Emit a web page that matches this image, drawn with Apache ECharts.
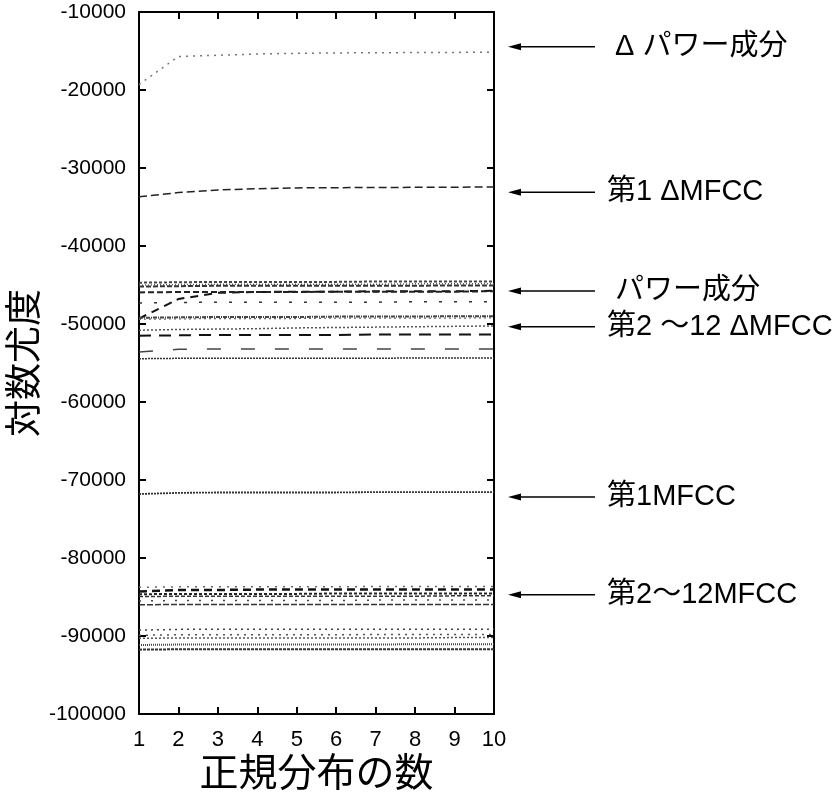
<!DOCTYPE html>
<html>
<head>
<meta charset="utf-8">
<script src="https://cdn.jsdelivr.net/npm/echarts@6/dist/echarts.min.js"></script>
<style>html,body{margin:0;padding:0;background:#fff}#chart{width:839px;height:800px}</style>
</head>
<body>
<div id="chart"></div>
<script>
// ---- data ----
const xValues = [1, 2, 3, 4, 5, 6, 7, 8, 9, 10];

const dPower  = [-19300, -15700, -15550, -15380, -15300, -15250, -15220, -15200, -15180, -15150];
const dMfcc1  = [-33700, -33150, -32820, -32650, -32550, -32520, -32500, -32480, -32460, -32440];
const power   = [-49300, -46800, -46000, -45900, -45850, -45850, -45800, -45800, -45800, -45750];

const dMfcc2  = [-44700, -44650, -44600, -44600, -44600, -44600, -44550, -44550, -44550, -44550];
const dMfcc3  = [-45000, -44950, -44900, -44900, -44900, -44900, -44900, -44850, -44850, -44850];
const dMfcc4  = [-45200, -45150, -45100, -45100, -45100, -45100, -45100, -45100, -45050, -45050];
const dMfcc5  = [-45950, -45900, -45900, -45900, -45900, -45850, -45850, -45850, -45850, -45800];
const dMfcc6  = [-47300, -47250, -47200, -47200, -47200, -47200, -47200, -47150, -47150, -47150];
const dMfcc7  = [-49200, -49150, -49100, -49100, -49100, -49050, -49050, -49050, -49000, -49000];
const dMfcc8  = [-49400, -49350, -49300, -49300, -49300, -49250, -49250, -49250, -49250, -49200];
const dMfcc9  = [-50800, -50700, -50650, -50600, -50500, -50450, -50400, -50350, -50300, -50250];
const dMfcc10 = [-51500, -51450, -51400, -51400, -51400, -51400, -51350, -51350, -51350, -51350];
const dMfcc11 = [-53600, -53250, -53200, -53200, -53200, -53200, -53200, -53200, -53200, -53200];
const dMfcc12 = [-54450, -54400, -54400, -54400, -54400, -54400, -54400, -54350, -54350, -54350];

const mfcc1   = [-71800, -71650, -71600, -71600, -71600, -71600, -71550, -71550, -71550, -71550];

const mfcc2   = [-83750, -83700, -83700, -83700, -83700, -83700, -83650, -83650, -83650, -83650];
const mfcc3   = [-84300, -84100, -84100, -84050, -84050, -84050, -84050, -84050, -84050, -84050];
const mfcc4   = [-84650, -84600, -84600, -84600, -84600, -84550, -84550, -84550, -84550, -84550];
const mfcc5   = [-84950, -84900, -84900, -84900, -84900, -84900, -84900, -84900, -84850, -84850];
const mfcc6   = [-85500, -85450, -85450, -85450, -85450, -85450, -85400, -85400, -85400, -85400];
const mfcc7   = [-86000, -85950, -85950, -85950, -85950, -85950, -85950, -85950, -85950, -85950];
const mfcc8   = [-89250, -89150, -89150, -89150, -89150, -89150, -89150, -89150, -89150, -89150];
const mfcc9   = [-89900, -89850, -89850, -89850, -89850, -89850, -89800, -89800, -89800, -89800];
const mfcc10  = [-90300, -90250, -90250, -90250, -90250, -90250, -90250, -90250, -90200, -90200];
const mfcc11  = [-91150, -91100, -91100, -91100, -91100, -91100, -91100, -91050, -91050, -91050];
const mfcc12  = [-91750, -91700, -91700, -91700, -91700, -91700, -91700, -91700, -91700, -91700];

const annotationLabels = ['Δ パワー成分', '第1 ΔMFCC', 'パワー成分', '第2 〜12 ΔMFCC', '第1MFCC', '第2〜12MFCC'];
const annotationValues = [-14470, -33110, -45760, -50350, -72190, -84700];

// ---- styles ----
const seriesDefs = [
  [dPower,  '#777', [2, 5], 1.5],
  [dMfcc1,  '#222', [8, 4], 1.5],
  [power,   '#111', [8, 6], 2],
  [dMfcc2,  '#444', [3, 2], 2],
  [dMfcc3,  '#555', [1, 2], 1.5],
  [dMfcc4,  '#333', [5, 2], 2],
  [dMfcc5,  '#222', [6, 3], 2],
  [dMfcc6,  '#333', [3, 12], 1.5],
  [dMfcc7,  '#444', [4, 1, 1, 1], 2],
  [dMfcc8,  '#666', [2, 3], 1.2],
  [dMfcc9,  '#555', [2, 2], 1.5],
  [dMfcc10, '#111', [12, 8], 2],
  [dMfcc11, '#444', [14, 20], 1.5],
  [dMfcc12, '#333', [2, 1], 1.5],
  [mfcc1,   '#333', [2, 1], 1.8],
  [mfcc2,   '#666', [2, 6], 1.5],
  [mfcc3,   '#111', [8, 5], 2.5],
  [mfcc4,   '#222', [3, 2], 2],
  [mfcc5,   '#333', [4, 2], 1.5],
  [mfcc6,   '#444', [2, 10], 1.5],
  [mfcc7,   '#333', [6, 2], 1.5],
  [mfcc8,   '#444', [2, 4], 1.5],
  [mfcc9,   '#555', [2, 5], 1.5],
  [mfcc10,  '#555', [2, 2], 1.5],
  [mfcc11,  '#444', [1, 1], 2],
  [mfcc12,  '#333', [3, 1], 2]
];

const FONT = '"Liberation Sans", "Noto Sans CJK JP", sans-serif';
const chart = echarts.init(document.getElementById('chart'), null, {renderer: 'canvas'});

const axisCommon = {
  axisLine: {show: true, onZero: false, lineStyle: {color: '#000', width: 2}},
  axisTick: {show: true, inside: true, length: 7, lineStyle: {color: '#000', width: 2}},
  splitLine: {show: false}
};

const option = {
  animation: false,
  backgroundColor: '#fff',
  grid: {left: 139, right: 345, top: 12, bottom: 83, containLabel: false},
  xAxis: [
    Object.assign({
      type: 'value', min: 1, max: 10, interval: 1, position: 'bottom',
      axisLabel: {color: '#000', fontSize: 22, fontFamily: FONT, margin: 15},
      name: '正規分布の数', nameLocation: 'middle', nameGap: 42,
      nameTextStyle: {color: '#000', fontSize: 39, fontFamily: FONT}
    }, axisCommon),
    Object.assign({
      type: 'value', min: 1, max: 10, interval: 1, position: 'top',
      axisLabel: {show: false}
    }, axisCommon)
  ],
  yAxis: [
    Object.assign({
      type: 'value', min: -100000, max: -10000, interval: 10000, position: 'left',
      axisLabel: {color: '#000', fontSize: 21, fontFamily: FONT, margin: 13,
        formatter: function (v) { return String(v); }},
      name: '対数尤度', nameLocation: 'middle', nameGap: 72, nameRotate: 90,
      nameTextStyle: {color: '#000', fontSize: 37, fontFamily: FONT}
    }, axisCommon),
    Object.assign({
      type: 'value', min: -100000, max: -10000, interval: 10000, position: 'right',
      axisLabel: {show: false}
    }, axisCommon)
  ],
  series: seriesDefs.map(function (d) {
    return {
      type: 'line', symbol: 'none', xAxisIndex: 0, yAxisIndex: 0,
      data: xValues.map(function (x, i) { return [x, d[0][i]]; }),
      lineStyle: {color: d[1], type: d[2], width: d[3]}
    };
  })
};
chart.setOption(option);

// annotations (arrows + labels), positioned through the y axis scale
const gridRight = 839 - 345;
const graphics = [];
annotationValues.forEach(function (v, i) {
  const y = chart.convertToPixel({yAxisIndex: 0}, v);
  const x0 = gridRight + 14, x1 = gridRight + 101;
  graphics.push({type: 'line', shape: {x1: x0 + 8, y1: y, x2: x1, y2: y},
    style: {stroke: '#000', lineWidth: 1.5}});
  graphics.push({type: 'polygon', shape: {points: [[x0, y], [x0 + 13, y - 3.5], [x0 + 13, y + 3.5]]},
    style: {fill: '#000'}});
  const first = annotationLabels[i].charAt(0);
  const tx = (first === 'Δ' || first === 'パ') ? gridRight + 121 : gridRight + 113;
  graphics.push({type: 'text', x: tx, y: y,
    style: {text: annotationLabels[i], fill: '#000', fontSize: 29, fontFamily: FONT, verticalAlign: 'middle', align: 'left'}});
});
chart.setOption({graphic: graphics});
</script>
</body>
</html>
